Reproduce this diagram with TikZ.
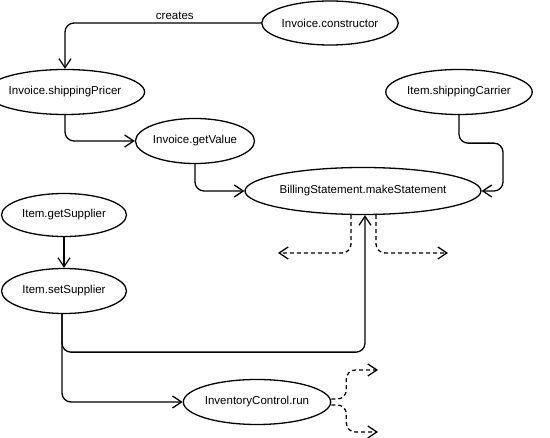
\documentclass[tikz,border=0pt]{standalone}
\usepackage{fontspec}
\setmainfont{Liberation Sans}
\usetikzlibrary{arrows.meta}
\usetikzlibrary{shapes}

\begin{document}
\begin{tikzpicture}[x=1pt,y=-1pt,
        method/.style={draw, ellipse, line width=1.3pt, inner sep=0pt,
            minimum height=45pt, font=\fontsize{11.5}{13}\selectfont},
        flow/.style={line width=1.3pt, rounded corners=9pt,
            -{Straight Barb[length=9pt,width=12pt]}},
        dflow/.style={flow, dash pattern=on 4pt off 3pt}]
    \useasboundingbox (0,0) rectangle (550,438);
    \node[method, minimum width=114pt, minimum height=44pt] (ctor) at (330,23) {Invoice.constructor};
    \node[method, minimum width=127pt] (pricer) at (65,92) {Invoice.shippingPricer};
    \node[method, minimum width=125pt] (carrier) at (459,92) {Item.shippingCarrier};
    \node[method, minimum width=114pt] (value) at (195,141) {Invoice.getValue};
    \node[method, minimum width=188pt, minimum height=47pt] (make) at (363,191) {BillingStatement.makeStatement};
    \node[method, minimum width=125pt, minimum height=43pt] (getsup) at (64,215) {Item.getSupplier};
    \node[method, minimum width=125pt] (setsup) at (64,291) {Item.setSupplier};
    \node[method, minimum width=126pt] (inv) at (257,402) {InventoryControl.run};
    \coordinate (makeL) at (278,253);
    \coordinate (makeR) at (448,253);
    \coordinate (invU) at (378,370);
    \coordinate (invD) at (378,432);
    \draw[flow] (ctor.west) -| node[pos=0.22, above, inner sep=2.5pt, font=\fontsize{11.5}{13}\selectfont] {creates} (pricer.north);
    \draw[flow] (pricer.south) |- (value.west);
    \draw[flow] (value.south) |- (make.west);
    \draw[flow] (carrier.south) |- ++(44,28) |- (make.east);
    \draw[flow] (getsup.south) -- (setsup.north);
    \draw[flow] ([xshift=-2pt]setsup.south) -- ++(0,38) -| ([xshift=2pt]make.south);
    \draw[flow] ([xshift=-2pt]setsup.south) |- (inv.west);
    \draw[dflow] ([xshift=-12pt]make.south) |- (makeL);
    \draw[dflow] ([xshift=13pt]make.south) |- (makeR);
    \draw[dflow] ([yshift=3pt]inv.east) -- ++(15,0) |- (invU);
    \draw[dflow] ([yshift=-3pt]inv.east) -- ++(15,0) |- (invD);
\end{tikzpicture}
\end{document}
